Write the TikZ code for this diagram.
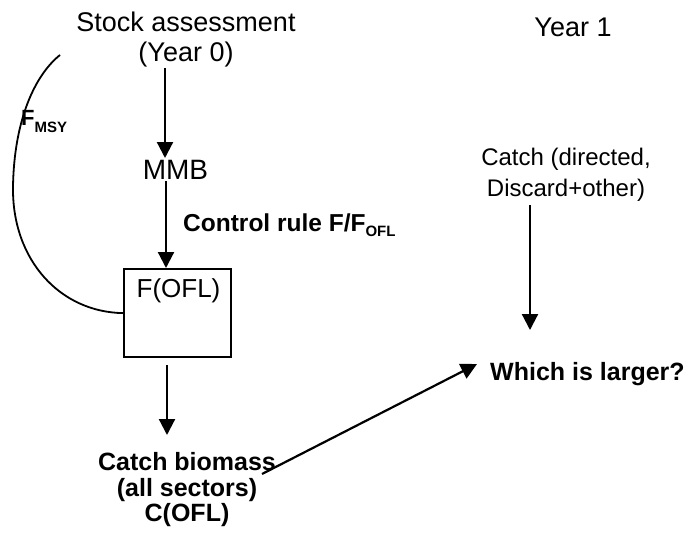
\documentclass[tikz,border=0pt]{standalone}
\usepackage{fontspec}
\setmainfont{Liberation Sans}
\usetikzlibrary{arrows.meta}
\newcommand{\lowsub}[2]{\raisebox{-#1pt}{\fontsize{15}{15}\bfseries\selectfont #2}}
\begin{document}
\begin{tikzpicture}[x=1pt,y=-1pt,
  lbl/.style={inner sep=0pt, align=center, font=\fontsize{27}{30}\selectfont},
  slbl/.style={inner sep=0pt, align=center, font=\fontsize{24}{31}\selectfont},
  blbl/.style={inner sep=0pt, align=center, font=\fontsize{25}{25.5}\bfseries\selectfont},
  arr/.style={-{Triangle[length=16pt,width=16pt]}, line width=2.2pt},
  curv/.style={line width=1.8pt}]
\useasboundingbox (0,0) rectangle (698,535);
\node[lbl] (stock) at (186,40) {Stock assessment\\(Year 0)};
\node[lbl, anchor=base] (year1) at (573,37) {Year 1};
\node[lbl, font=\fontsize{28}{30}\selectfont] (mmb) at (175.5,170) {MMB};
\node[blbl, font=\fontsize{24.5}{25}\bfseries\selectfont, anchor=base west] (rule) at (183,231) {Control rule F/F\lowsub{5}{OFL}};
\node[draw, line width=2.2pt, minimum width=107pt, minimum height=88pt, inner sep=0pt, anchor=north] (fbox) at (177.5,268) {};
\node[lbl, font=\fontsize{26}{30}\selectfont, anchor=base] (fofl) at (178.5,297.5) {F(OFL)};
\node[blbl, font=\fontsize{22}{25}\bfseries\selectfont, anchor=base west] (fmsy) at (21,125) {F\lowsub{7}{MSY}};
\node[blbl] (cb) at (187,490) {Catch biomass\\(all sectors)\\C(OFL)};
\node[slbl] (catch) at (566,175) {Catch (directed,\\Discard+other)};
\node[blbl, anchor=base west] (which) at (490,380) {Which is larger?};
\coordinate (s1) at (165,68);
\coordinate (m1) at (165,158);
\coordinate (m2) at (166,181);
\coordinate (b1) at (167,365);
\coordinate (b2) at (167,435);
\coordinate (c1) at (262,474);
\coordinate (w1) at (477,364);
\coordinate (y1) at (530,205);
\coordinate (y2) at (530,330);
\coordinate (f0) at (60,55);
\coordinate (f1) at (13,187);
\draw[arr] (s1) -- (m1);
\draw[arr] (m2) -- (fbox.north -| m2);
\draw[arr] (b1) -- (b2);
\draw[arr] (c1) -- (w1);
\draw[arr] (y1) -- (y2);
\draw[curv] (f0) .. controls (35,75) and (14,120) .. (f1)
  .. controls (12,260) and (60,312) .. (fbox.west);
\end{tikzpicture}
\end{document}
